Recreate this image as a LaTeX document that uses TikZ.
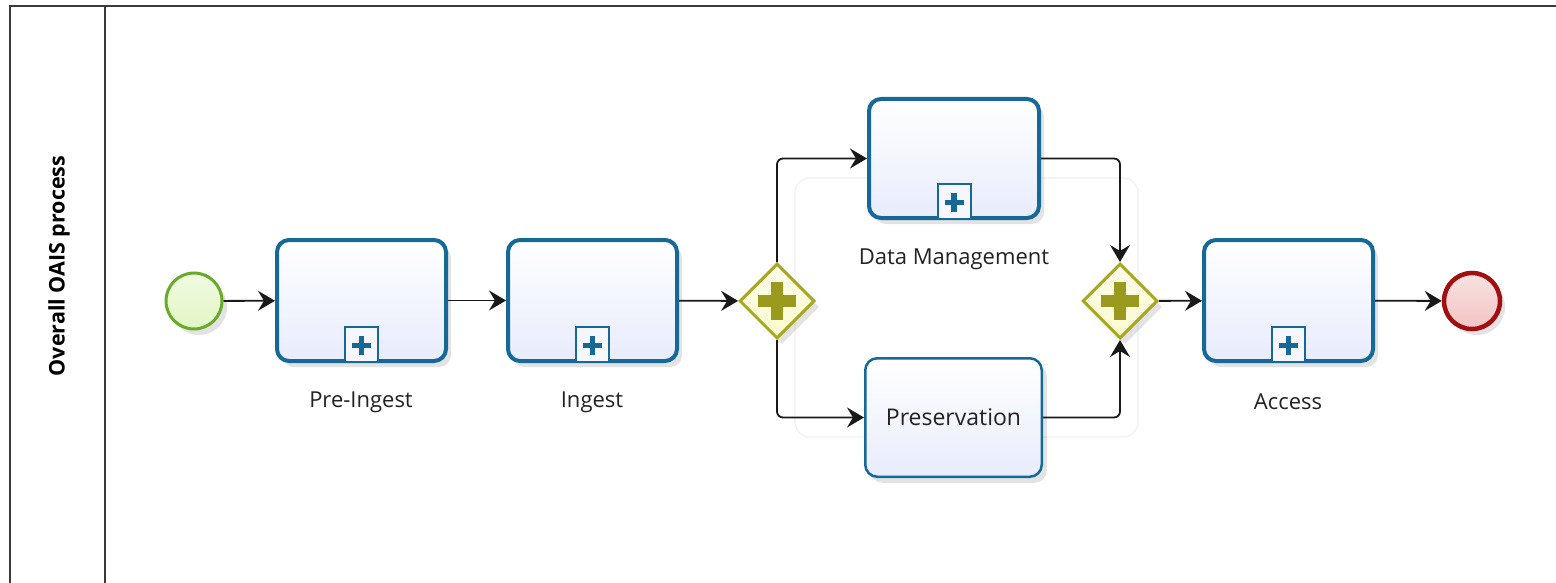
\documentclass[tikz,border=0pt]{standalone}
\usepackage{fontspec}
\setmainfont{Open Sans}
\usetikzlibrary{shapes.geometric,arrows.meta,shadows,calc}
\definecolor{taskblue}{RGB}{22,104,150}
\definecolor{taskfill}{RGB}{232,236,252}
\definecolor{gwline}{RGB}{168,168,32}
\definecolor{gwfill}{RGB}{250,250,206}
\definecolor{gwplus}{RGB}{154,154,30}
\definecolor{startline}{RGB}{106,170,42}
\definecolor{startfill}{RGB}{226,246,196}
\definecolor{endline}{RGB}{160,16,16}
\definecolor{endfill}{RGB}{242,196,196}
\definecolor{poolline}{RGB}{58,58,58}
\definecolor{txt}{RGB}{34,34,34}
\tikzset{
  x=1pt,y=-1pt,
  shadowed/.style={drop shadow={shadow xshift=5pt,shadow yshift=-6pt,opacity=0.18,fill=black!60}},
  taskbox/.style={draw=taskblue,line width=4pt,rounded corners=12pt,minimum width=169pt,minimum height=121pt,
     inner sep=0pt,top color=white,bottom color=taskfill,shadowed},
  gateway/.style={diamond,aspect=1,draw=gwline,line width=3pt,minimum width=75pt,minimum height=75pt,inner sep=0pt,
     top color=white!60!gwfill,bottom color=gwfill,shadowed},
  evstart/.style={circle,draw=startline,line width=3pt,minimum size=56pt,inner sep=0pt,top color=white!50!startfill,bottom color=startfill,shadowed},
  evend/.style={circle,draw=endline,line width=4.5pt,minimum size=56pt,inner sep=0pt,top color=white!50!endfill,bottom color=endfill,shadowed},
  flow/.style={line width=1.8pt,draw=black!90,rounded corners=6pt,-{Stealth[length=17pt,width=20pt,inset=6pt]}},
  lbl/.style={font=\fontsize{22}{26}\selectfont,text=txt,inner sep=0pt},
  pool/.style={draw=poolline,line width=1.6pt},
}
\newcommand{\submarker}[1]{%
  \draw[taskblue,line width=2pt,fill=white!60!taskfill] ($(#1.south)+(-16.5,-1)$) rectangle ($(#1.south)+(16.5,-36)$);
  \fill[taskblue] ($(#1.south)+(-9.5,-20.5)$) rectangle ($(#1.south)+(9.5,-15)$);
  \fill[taskblue] ($(#1.south)+(-2.75,-27.5)$) rectangle ($(#1.south)+(2.75,-8.5)$);
}
\newcommand{\gwplus}[1]{%
  \fill[gwplus] ($(#1)+(-19,-6)$) rectangle ($(#1)+(19,6)$);
  \fill[gwplus] ($(#1)+(-6,-19)$) rectangle ($(#1)+(6,19)$);
}
\begin{document}
\begin{tikzpicture}
\useasboundingbox (0,0) rectangle (1556,583);
\fill[white] (0,0) rectangle (1556,583);
% pool
\draw[pool] (10,583) -- (10,6) -- (1556,6);
\draw[pool] (105,6) -- (105,583);
\node[rotate=90,font=\bfseries\fontsize{21.5}{25}\selectfont,text=black,inner sep=0pt] (lane) at (59,266) {Overall OAIS process};
% faint ghost frame
\draw[black!6,line width=1.2pt,rounded corners=15pt] (795,178) rectangle (1138,437);
% nodes
\node[evstart] (start) at (194,301) {};
\node[taskbox] (pre) at (361.5,300.5) {};
\node[taskbox] (ing) at (592.5,300.5) {};
\node[gateway] (g1) at (777,301) {};
\node[taskbox,minimum width=170pt,minimum height=119pt] (dm) at (954,158.5) {};
\node[taskbox,line width=2.5pt,minimum width=176.5pt,minimum height=118.5pt,font=\fontsize{23}{27}\selectfont,text=txt] (pres) at (953.5,417.5) {Preservation};
\node[gateway] (g2) at (1120,301) {};
\node[taskbox] (acc) at (1288.5,300.5) {};
\node[evend] (endev) at (1472,301) {};
% markers
\submarker{pre}
\submarker{ing}
\submarker{dm}
\submarker{acc}
\gwplus{g1}
\gwplus{g2}
% labels
\node[lbl] (lpre) at (361,402) {Pre-Ingest};
\node[lbl] (ling) at (592,402) {Ingest};
\node[lbl] (ldm) at (954,259) {Data Management};
\node[lbl] (lacc) at (1288,402) {Access};
% flows
\draw[flow] (start) -- (pre);
\draw[flow] (pre) -- (ing);
\draw[flow] (ing) -- (g1);
\draw[flow] (g1.north) |- (dm.west);
\draw[flow] (g1.south) |- (pres.west);
\draw[flow] (dm.east) -| (g2.north);
\draw[flow] (pres.east) -| (g2.south);
\draw[flow] (g2) -- (acc);
\draw[flow] (acc) -- (endev);
\end{tikzpicture}
\end{document}
